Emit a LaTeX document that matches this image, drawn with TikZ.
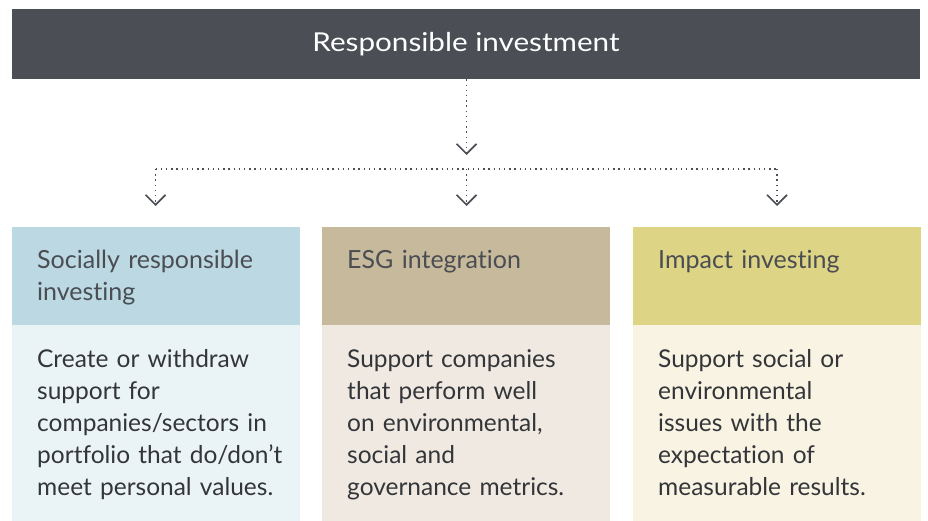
\documentclass[tikz,border=0pt]{standalone}
\usepackage{fontspec}
\setmainfont{Lato}[Ligatures={NoCommon}]
\newfontfamily\titlefont[FakeStretch=1.14]{Lato}
\usetikzlibrary{arrows.meta}
\definecolor{topbar}{HTML}{4B4F55}
\definecolor{hA}{HTML}{BCD9E3}
\definecolor{bA}{HTML}{EAF4F7}
\definecolor{hB}{HTML}{C6B99C}
\definecolor{bB}{HTML}{EFE9E2}
\definecolor{hC}{HTML}{DDD486}
\definecolor{bC}{HTML}{F8F3E3}
\definecolor{headtxt}{HTML}{4A4D52}
\definecolor{txt}{HTML}{333538}
\definecolor{dots}{HTML}{4B4F55}
\tikzset{
  panel/.style={rectangle, inner sep=0pt, anchor=north west, minimum width=288pt},
  head/.style={panel, minimum height=98pt},
  body/.style={panel, minimum height=196pt},
  label/.style={anchor=base west, inner sep=0pt, align=left, text width=280pt,
    font=\fontsize{24.5}{32}\selectfont, text=txt},
  headlabel/.style={label, font=\fontsize{25}{32}\selectfont, text=headtxt},
  link/.style={draw=dots, line width=1.5pt, dash pattern=on 1.4pt off 3.8pt},
  tip/.style={-{Straight Barb[length=10pt,width=20pt,line width=1.6pt]}}
}
\begin{document}
\begin{tikzpicture}[x=1pt,y=-1pt]
\useasboundingbox (0,0) rectangle (928,521);
\node[rectangle, fill=topbar, anchor=north west, minimum width=908pt, minimum height=70pt, inner sep=0pt] (top) at (12,9) {};
\node[text=white, anchor=base, inner sep=0pt, font=\titlefont\fontsize{26}{30}\selectfont] (toptext) at (466,52) {Responsible investment};

\node[head, fill=hA] (h1) at (12,227) {};
\node[body, fill=bA] (b1) at (12,325) {};
\node[head, fill=hB] (h2) at (322,227) {};
\node[body, fill=bB] (b2) at (322,325) {};
\node[head, fill=hC] (h3) at (633,227) {};
\node[body, fill=bC] (b3) at (633,325) {};

\node[headlabel] (t1) at (37,269) {Socially responsible\\investing};
\node[headlabel] (t2) at (347,269) {ESG integration};
\node[headlabel] (t3) at (658,269) {Impact investing};

\node[label] (d1) at (37,367) {Create or withdraw\\support for\\companies/sectors in\\portfolio that do/don’t\\meet personal values.};
\node[label] (d2) at (347,367) {Support companies\\that perform well\\on environmental,\\social and\\governance metrics.};
\node[label] (d3) at (658,367) {Support social or\\environmental\\issues with the\\expectation of\\measurable results.};

\coordinate (split) at (466.5,169);
\coordinate (left) at (155.5,169);
\coordinate (right) at (777,169);
\coordinate (midtip) at (466.5,155);
\coordinate (ltip) at (155.5,206);
\coordinate (ctip) at (466.5,206);
\coordinate (rtip) at (777,206);

\draw[link, tip] (top.south -| midtip) -- (midtip);
\draw[link] (left) -- (right);
\draw[link, tip] (left) -- (ltip);
\draw[link, tip] (split) -- (ctip);
\draw[link, tip] (right) -- (rtip);
\end{tikzpicture}
\end{document}
